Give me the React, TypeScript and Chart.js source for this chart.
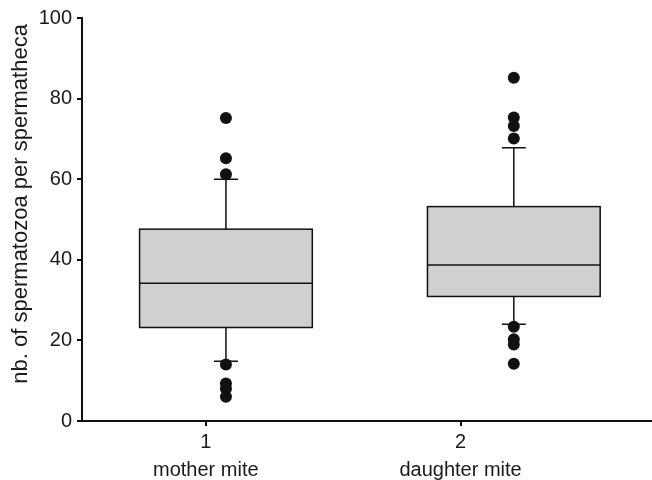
import React, { useEffect, useRef } from "react";
import { Chart, registerables } from "chart.js";

Chart.register(...registerables);

// Groups
const groupLabels = [["1", "mother mite"], ["2", "daughter mite"]];
const groupPositions = [1, 2];
const tickPositions = [0.93, 1.815];

// Box statistics per group
const lowerWhiskers = [14.8, 24.0];
const q1Values = [23.2, 30.9];
const medians = [34.2, 38.7];
const q3Values = [47.6, 53.2];
const upperWhiskers = [60.0, 67.8];

// Outliers per group
const outliersMother = [75.2, 65.2, 61.2, 14.0, 9.3, 8.0, 6.0];
const outliersDaughter = [85.2, 75.3, 73.2, 70.1, 23.4, 20.3, 19.0, 14.2];

const yTicks = [0, 20, 40, 60, 80, 100];
const yTitle = "nb. of spermatozoa per spermatheca ";

const BOX_WIDTH_UNITS = 0.6;
const CAP_PX = 24;
const INK = "#111111";
const FILL = "#d0d0d0";
const FONT = "'Liberation Sans', Arial, Helvetica, sans-serif";
const CANVAS_W = 658;

const boxPlugin = {
  id: "boxes",
  beforeDatasetsDraw(chart: any) {
    const { ctx, scales } = chart;
    const xs = scales.x;
    const ys = scales.y;
    ctx.save();
    for (let i = 0; i < groupPositions.length; i++) {
      const cx = xs.getPixelForValue(groupPositions[i]);
      const left = xs.getPixelForValue(groupPositions[i] - BOX_WIDTH_UNITS / 2);
      const right = xs.getPixelForValue(groupPositions[i] + BOX_WIDTH_UNITS / 2);
      const yq1 = ys.getPixelForValue(q1Values[i]);
      const yq3 = ys.getPixelForValue(q3Values[i]);
      const ymed = ys.getPixelForValue(medians[i]);
      const ylo = ys.getPixelForValue(lowerWhiskers[i]);
      const yhi = ys.getPixelForValue(upperWhiskers[i]);
      ctx.strokeStyle = INK;
      ctx.lineWidth = 1.5;
      // whiskers
      ctx.beginPath();
      ctx.moveTo(cx, yq3);
      ctx.lineTo(cx, yhi);
      ctx.moveTo(cx - CAP_PX / 2, yhi);
      ctx.lineTo(cx + CAP_PX / 2, yhi);
      ctx.moveTo(cx, yq1);
      ctx.lineTo(cx, ylo);
      ctx.moveTo(cx - CAP_PX / 2, ylo);
      ctx.lineTo(cx + CAP_PX / 2, ylo);
      ctx.stroke();
      // box
      ctx.fillStyle = FILL;
      ctx.fillRect(left, yq3, right - left, yq1 - yq3);
      ctx.strokeRect(left, yq3, right - left, yq1 - yq3);
      // median
      ctx.beginPath();
      ctx.moveTo(left, ymed);
      ctx.lineTo(right, ymed);
      ctx.stroke();
    }
    ctx.restore();
  },
};

export default function App() {
  const canvasRef = useRef<HTMLCanvasElement | null>(null);

  useEffect(() => {
    if (!canvasRef.current) return;
    const outlierPoints = [
      ...outliersMother.map((v) => ({ x: groupPositions[0], y: v })),
      ...outliersDaughter.map((v) => ({ x: groupPositions[1], y: v })),
    ];
    const chart = new Chart(canvasRef.current, {
      type: "scatter",
      data: {
        datasets: [
          {
            data: outlierPoints,
            pointRadius: 6,
            pointBorderWidth: 0,
            pointBackgroundColor: INK,
            pointBorderColor: INK,
          },
        ],
      },
      options: {
        animation: false,
        responsive: false,
        maintainAspectRatio: false,
        layout: { padding: { top: 18, right: 0, left: 0, bottom: 0 } },
        plugins: { legend: { display: false }, tooltip: { enabled: false } },
        scales: {
          x: {
            type: "linear",
            min: 0.5,
            max: 2.48,
            afterFit: (s: any) => {
              s.height = 59;
            },
            afterBuildTicks: (s: any) => {
              s.ticks = tickPositions.map((v) => ({ value: v }));
            },
            border: { display: true, color: INK, width: 2 },
            grid: {
              display: true,
              drawOnChartArea: false,
              drawTicks: true,
              tickLength: 5,
              color: INK,
              lineWidth: 2,
            },
            ticks: {
              autoSkip: false,
              maxRotation: 0,
              padding: 2,
              color: "#1a1a1a",
              font: { family: FONT, size: 20, lineHeight: 1.4 },
              callback: (_v: any, i: number) => groupLabels[i],
            },
          },
          y: {
            type: "linear",
            min: 0,
            max: 100,
            afterFit: (s: any) => {
              s.width = 82;
            },
            afterBuildTicks: (s: any) => {
              s.ticks = yTicks.map((v) => ({ value: v }));
            },
            border: { display: true, color: INK, width: 2 },
            grid: {
              display: true,
              drawOnChartArea: false,
              drawTicks: true,
              tickLength: 5,
              color: INK,
              lineWidth: 2,
            },
            ticks: {
              padding: 5,
              color: "#1a1a1a",
              font: { family: FONT, size: 20 },
            },
            title: {
              display: true,
              text: yTitle,
              align: "end",
              color: "#1a1a1a",
              font: { family: FONT, size: 22 },
              padding: { top: 8, bottom: 0 },
            },
          },
        },
      },
      plugins: [boxPlugin],
    });
    return () => chart.destroy();
  }, []);

  return (
    <div style={{ position: "fixed", left: 0, top: 0, width: 652, height: 480, overflow: "hidden", background: "#fff" }}>
      <canvas ref={canvasRef} width={CANVAS_W} height={480} style={{ width: CANVAS_W, height: 480, display: "block" }} />
    </div>
  );
}
